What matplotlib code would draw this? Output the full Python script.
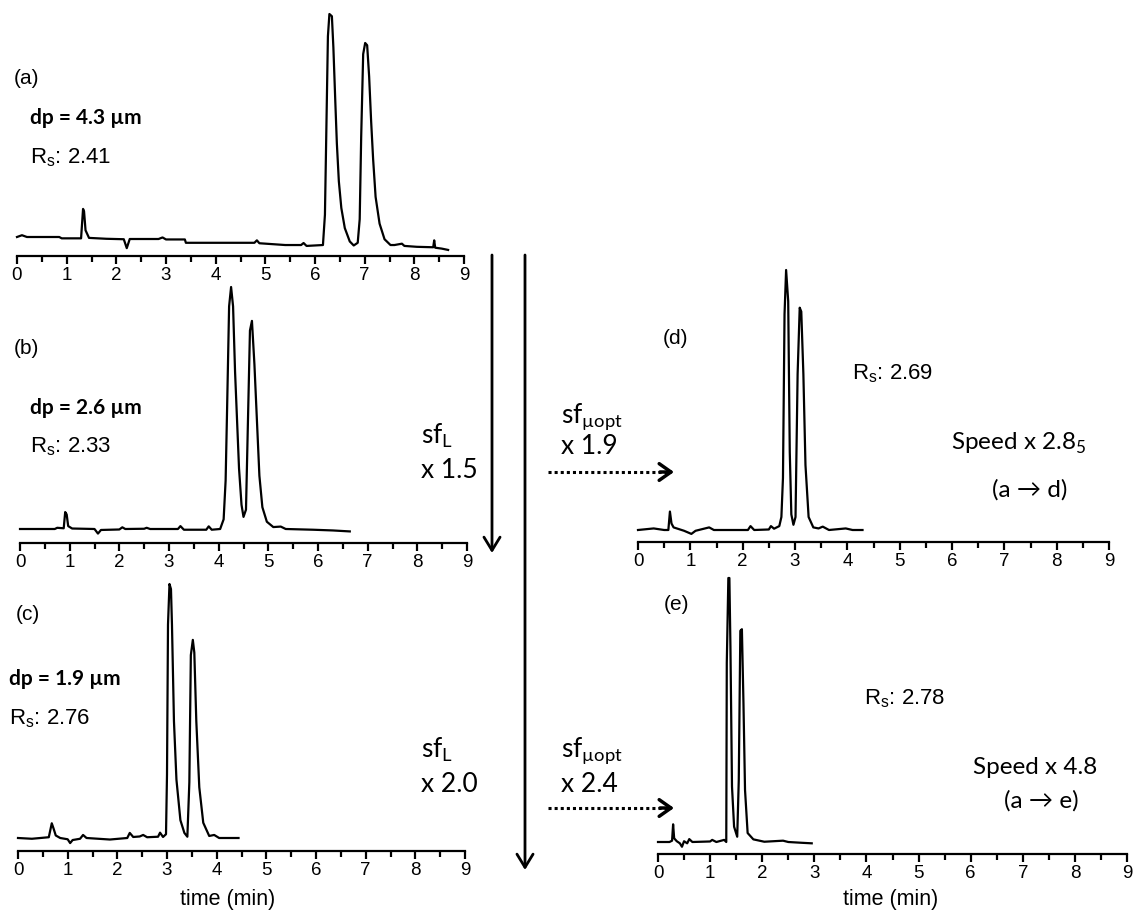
import matplotlib
matplotlib.use("Agg")
import matplotlib.pyplot as plt
from matplotlib.patches import FancyArrowPatch
from matplotlib.ticker import MultipleLocator

# ---------------- data (time in min, signal in relative units, tallest peak = 100)
x_ticks = [0, 1, 2, 3, 4, 5, 6, 7, 8, 9]

a_t = [0.00, 0.10, 0.20, 0.85, 0.90, 1.29, 1.33, 1.35, 1.38, 1.45, 1.80, 2.15, 2.21, 2.27,
       2.85, 2.93, 3.00, 3.38, 3.40, 4.78, 4.83, 4.88, 5.40, 5.72, 5.77, 5.83, 6.16, 6.20,
       6.23, 6.26, 6.29, 6.34, 6.37, 6.41, 6.44, 6.48, 6.53, 6.60, 6.70, 6.78, 6.86, 6.90,
       6.93, 6.97, 7.01, 7.05, 7.09, 7.13, 7.17, 7.22, 7.30, 7.40, 7.52, 7.60, 7.75, 7.80,
       8.05, 8.38, 8.40, 8.42, 8.55, 8.68]
a_y = [0.0, 0.8, 0.0, 0.0, -0.6, -0.6, 12.6, 11.5, 3.0, -0.4, -0.8, -1.0, -5.0, -0.9,
       -0.9, -0.2, -1.1, -1.1, -2.6, -2.6, -1.5, -2.8, -3.6, -3.6, -2.7, -4.0, -3.6, 10.0,
       50.0, 90.0, 100.0, 99.0, 85.0, 60.0, 42.0, 25.0, 13.0, 4.0, -2.0, -3.8, -2.6, 8.0,
       45.0, 82.0, 87.0, 86.0, 72.0, 52.0, 35.0, 18.0, 6.0, -1.0, -3.6, -3.6, -3.0, -4.0,
       -4.4, -4.6, -1.5, -4.8, -5.2, -5.8]

b_t = [0.00, 0.70, 0.75, 0.88, 0.91, 0.94, 0.97, 1.05, 1.50, 1.57, 1.63, 2.00, 2.06, 2.12,
       2.50, 2.55, 2.62, 3.18, 3.23, 3.30, 3.75, 3.80, 3.86, 4.03, 4.10, 4.14, 4.17, 4.21,
       4.25, 4.29, 4.33, 4.37, 4.41, 4.46, 4.50, 4.55, 4.59, 4.63, 4.67, 4.72, 4.77, 4.82,
       4.88, 4.97, 5.10, 5.25, 5.35, 5.90, 6.30, 6.64]
b_y = [0.0, 0.0, 0.5, 0.3, 7.0, 6.0, 1.2, 0.2, 0.0, -1.9, -0.4, -0.2, 0.7, 0.0,
       0.1, 0.5, 0.0, 0.0, 1.2, -0.3, -0.3, 1.1, -0.3, 0.0, 4.0, 20.0, 50.0, 92.0,
       100.0, 92.0, 65.0, 45.0, 25.0, 10.0, 5.0, 8.0, 45.0, 82.0, 86.0, 68.0, 45.0, 22.0,
       9.0, 3.0, 0.8, 1.0, 0.0, -0.3, -0.6, -1.0]

c_t = [0.00, 0.28, 0.62, 0.68, 0.72, 0.76, 0.85, 1.00, 1.05, 1.10, 1.25, 1.31, 1.38, 1.85,
       2.20, 2.25, 2.32, 2.45, 2.52, 2.60, 2.82, 2.86, 2.92, 2.98, 3.00, 3.02, 3.05, 3.08,
       3.10, 3.14, 3.19, 3.27, 3.35, 3.41, 3.45, 3.48, 3.52, 3.55, 3.59, 3.65, 3.73, 3.85,
       3.95, 4.05, 4.44]
c_y = [0.0, -0.3, 0.3, 5.8, 3.5, 1.0, 0.0, -0.5, -2.0, -0.8, -0.3, 1.2, 0.0, -0.6,
       0.0, 2.0, 0.4, 0.6, 1.2, 0.3, 0.5, 2.1, 0.4, 1.5, 25.0, 84.0, 100.0, 98.0,
       84.0, 46.0, 23.0, 7.0, 2.0, 0.5, 22.0, 72.0, 78.0, 73.0, 46.0, 20.0, 6.0, 0.8,
       1.2, 0.0, 0.0]

d_t = [0.00, 0.30, 0.50, 0.58, 0.61, 0.64, 0.68, 0.88, 1.02, 1.10, 1.36, 1.45, 2.10, 2.15,
       2.22, 2.50, 2.54, 2.60, 2.70, 2.74, 2.77, 2.80, 2.83, 2.87, 2.90, 2.93, 2.97, 3.01,
       3.05, 3.09, 3.12, 3.16, 3.20, 3.26, 3.35, 3.45, 3.53, 3.65, 3.97, 4.10, 4.29]
d_y = [0.0, 0.6, 0.0, 0.0, 7.1, 2.5, 1.0, -0.3, -1.5, -0.3, 1.0, 0.0, 0.0, 1.5,
       0.0, 0.2, 1.5, 0.5, 1.5, 5.0, 20.0, 83.0, 100.0, 88.0, 30.0, 6.0, 2.0, 5.0,
       60.0, 85.5, 84.0, 60.0, 25.0, 5.0, 1.0, 0.6, 1.3, 0.0, 0.6, 0.0, 0.0]

e_t = [0.00, 0.22, 0.27, 0.29, 0.31, 0.36, 0.42, 0.46, 0.50, 0.56, 0.60, 0.66, 1.00, 1.04,
       1.12, 1.27, 1.31, 1.32, 1.35, 1.37, 1.39, 1.42, 1.46, 1.52, 1.55, 1.58, 1.61, 1.64,
       1.67, 1.72, 1.83, 2.04, 2.40, 2.50, 2.76, 2.95]
e_y = [0.0, 0.0, 0.5, 6.7, 1.4, 0.3, -0.5, -1.8, 0.3, -0.5, 1.1, 0.0, 0.2, 0.8,
       0.0, 0.8, 0.0, 67.8, 100.0, 100.0, 74.0, 21.0, 5.8, 2.0, 23.5, 80.0, 80.6, 52.6,
       19.7, 3.4, 1.0, 0.1, 0.5, 0.0, -0.3, -0.5]

# ---------------- figure
W, H = 1134, 910
fig = plt.figure(figsize=(W / 100, H / 100), dpi=100)
fig.patch.set_facecolor("white")

SANS = ["Liberation Sans", "DejaVu Sans"]
CAL = ["Lato", "DejaVu Sans"]


def panel(t, y, left, right, axis_y, top_y, base_y, peak_y):
    ax = fig.add_axes([left / W, 1 - axis_y / H, (right - left) / W, (axis_y - top_y) / H])
    k = 100.0 / (base_y - peak_y)
    ax.set_ylim(-(axis_y - base_y) * k, (base_y - top_y) * k)
    ax.set_xlim(0, 9)
    ax.plot(t, y, color="black", lw=1.6, clip_on=False)
    for s in ["left", "right", "top"]:
        ax.spines[s].set_visible(False)
    ax.spines["bottom"].set_linewidth(1.6)
    ax.set_yticks([])
    ax.set_xticks(x_ticks)
    ax.xaxis.set_minor_locator(MultipleLocator(0.5))
    ax.tick_params(axis="x", which="major", direction="out", length=6, width=1.6, pad=2.0)
    ax.tick_params(axis="x", which="minor", direction="out", length=4, width=1.6)
    for lb in ax.get_xticklabels():
        lb.set_fontfamily(SANS)
        lb.set_fontsize(13.5)
    ax.patch.set_visible(False)
    return ax


ax_a = panel(a_t, a_y, 17, 464, 256, 8, 237, 14)
ax_b = panel(b_t, b_y, 20, 467, 543, 280, 529, 287)
ax_c = panel(c_t, c_y, 18, 465, 851, 575, 838, 584)
ax_d = panel(d_t, d_y, 638, 1109, 542, 262, 530, 270)
ax_e = panel(e_t, e_y, 658, 1127, 854, 570, 842, 578)

# overlay in pixel coordinates for annotations
ov = fig.add_axes([0, 0, 1, 1], zorder=10)
ov.set_xlim(0, W)
ov.set_ylim(H, 0)
ov.axis("off")


def txt(x, y, s, fam, size, weight="normal", ha="left"):
    ov.text(x, y, s, family=fam, fontsize=size, fontweight=weight, ha=ha, va="center")


# panel letters
for lab, (x, y) in {"(a)": (14, 79), "(b)": (14, 348), "(c)": (16, 614),
                    "(d)": (663, 339), "(e)": (664, 604)}.items():
    txt(x, y, lab, SANS, 15)

# particle sizes
txt(30, 118, "dp = 4.3 µm", CAL, 15, "bold")
txt(30, 408, "dp = 2.6 µm", CAL, 15, "bold")
txt(9, 679, "dp = 1.9 µm", CAL, 15, "bold")

# resolutions
for s, (x, y) in {"2.41": (30, 158), "2.33": (30, 447), "2.76": (9, 719),
                  "2.69": (852, 374), "2.78": (864, 699)}.items():
    txt(x, y, r"R$_\mathregular{s}$: " + s, SANS, 16)

# scale factors
txt(421, 436, r"sf$_\mathregular{L}$", CAL, 19)
txt(421, 471, "x 1.5", CAL, 19)
txt(421, 750, r"sf$_\mathregular{L}$", CAL, 19)
txt(421, 784, "x 2.0", CAL, 19)
txt(561, 416, r"sf$_\mathregular{µopt}$", CAL, 19)
txt(561, 446, "x 1.9", CAL, 19)
txt(561, 750, r"sf$_\mathregular{µopt}$", CAL, 19)
txt(561, 784, "x 2.4", CAL, 19)

txt(951, 443, r"Speed x 2.8$_\mathregular{5}$", CAL, 17.5)
txt(1030, 490, "(a → d)", CAL, 17.5, ha="center")
txt(973, 767, "Speed x 4.8", CAL, 17.5)
txt(1041, 801, "(a → e)", CAL, 17.5, ha="center")

# axis titles
txt(228, 899, "time (min)", SANS, 15.5, ha="center")
txt(891, 899, "time (min)", SANS, 15.5, ha="center")

# vertical arrows
for x, y1 in [(492, 553), (525, 870)]:
    ov.add_patch(FancyArrowPatch((x, 255), (x, y1), arrowstyle="->,head_length=0.95,head_width=0.58",
                                 mutation_scale=10, lw=2, color="black", shrinkA=0, shrinkB=0))

# dotted arrows
for y in [472, 808]:
    ov.plot([548, 668], [y, y], color="black", lw=2.2, ls=(0, (1, 1)))
    ov.add_patch(FancyArrowPatch((660, y), (674, y), arrowstyle="->,head_length=0.85,head_width=0.6",
                                 mutation_scale=10, lw=2.5, color="black", shrinkA=0, shrinkB=0))

fig.savefig("out.png", dpi=100, facecolor="white")
